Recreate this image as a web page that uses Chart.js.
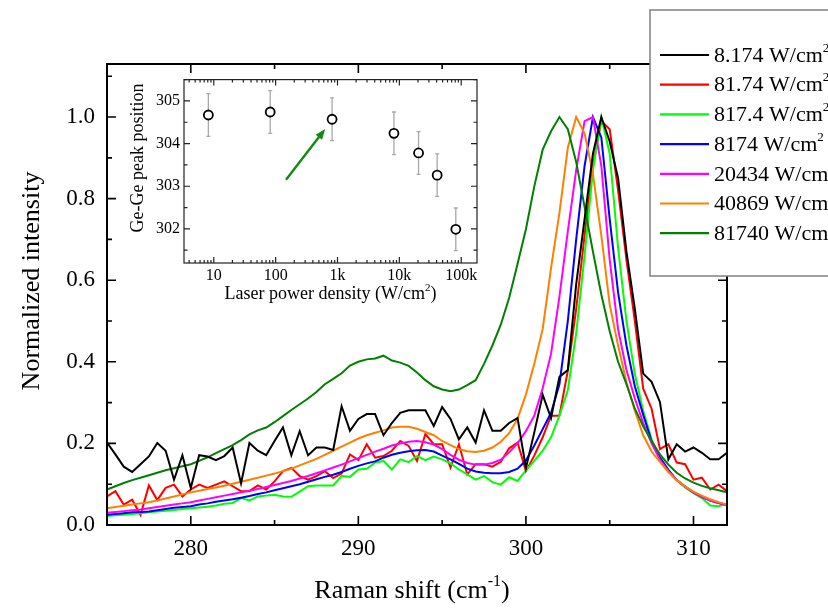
<!DOCTYPE html>
<html>
<head>
<meta charset="utf-8">
<script src="https://cdn.jsdelivr.net/npm/chart.js@4.4.0/dist/chart.umd.min.js"></script>
<style>
body { margin: 0; background: #fff; }
#wrap { position: relative; width: 828px; height: 609px; overflow: hidden; }
#main { position: absolute; left: 0; top: 0; }
#inset { position: absolute; left: 110px; top: 66px; }
</style>
</head>
<body>
<div id="wrap">
<canvas id="main" width="828" height="609"></canvas>
<canvas id="inset" width="380" height="240"></canvas>
</div>
<script>
// Raman shift (cm-1)
const ramanShift = [275, 275.5, 276, 276.5, 277, 277.5, 278, 278.5, 279, 279.5,
    280, 280.5, 281, 281.5, 282, 282.5, 283, 283.5, 284, 284.5,
    285, 285.5, 286, 286.5, 287, 287.5, 288, 288.5, 289, 289.5,
    290, 290.5, 291, 291.5, 292, 292.5, 293, 293.5, 294, 294.5,
    295, 295.5, 296, 296.5, 297, 297.5, 298, 298.5, 299, 299.5,
    300, 300.5, 301, 301.5, 302, 302.5, 303, 303.5, 304, 304.5,
    305, 305.5, 306, 306.5, 307, 307.5, 308, 308.5, 309, 309.5,
    310, 310.5, 311, 311.5, 312];

// normalized intensity, one array per laser power density
const p8_174 = [0.202, 0.173, 0.143, 0.130, 0.149, 0.168, 0.201, 0.182, 0.111, 0.171,
    0.091, 0.171, 0.168, 0.159, 0.169, 0.190, 0.102, 0.201, 0.182, 0.171,
    0.206, 0.239, 0.171, 0.230, 0.171, 0.190, 0.190, 0.184, 0.291, 0.231,
    0.260, 0.272, 0.272, 0.220, 0.250, 0.275, 0.281, 0.281, 0.281, 0.243,
    0.289, 0.260, 0.210, 0.239, 0.202, 0.281, 0.231, 0.231, 0.250, 0.262,
    0.140, 0.227, 0.319, 0.262, 0.363, 0.380, 0.590, 0.750, 0.910, 1.000,
    0.940, 0.850, 0.670, 0.530, 0.371, 0.351, 0.301, 0.161, 0.198, 0.180,
    0.190, 0.177, 0.161, 0.161, 0.177];
const p81_74 = [0.070, 0.083, 0.050, 0.062, 0.025, 0.097, 0.061, 0.091, 0.099, 0.070,
    0.087, 0.099, 0.091, 0.099, 0.107, 0.095, 0.083, 0.083, 0.097, 0.087,
    0.107, 0.132, 0.140, 0.120, 0.111, 0.120, 0.132, 0.115, 0.126, 0.173,
    0.159, 0.198, 0.165, 0.169, 0.182, 0.206, 0.194, 0.157, 0.223, 0.198,
    0.198, 0.141, 0.198, 0.124, 0.149, 0.149, 0.143, 0.155, 0.188, 0.202,
    0.132, 0.170, 0.215, 0.268, 0.268, 0.378, 0.530, 0.710, 0.880, 0.990,
    0.970, 0.820, 0.650, 0.500, 0.334, 0.285, 0.186, 0.198, 0.153, 0.149,
    0.111, 0.116, 0.087, 0.099, 0.083];
const p817_4 = [0.022, 0.024, 0.025, 0.027, 0.029, 0.031, 0.033, 0.035, 0.037, 0.039,
    0.041, 0.043, 0.045, 0.048, 0.052, 0.054, 0.066, 0.060, 0.070, 0.072,
    0.074, 0.070, 0.069, 0.082, 0.095, 0.097, 0.097, 0.097, 0.120, 0.118,
    0.136, 0.138, 0.153, 0.157, 0.136, 0.161, 0.154, 0.169, 0.159, 0.168,
    0.161, 0.151, 0.136, 0.124, 0.111, 0.120, 0.105, 0.099, 0.117, 0.108,
    0.134, 0.157, 0.182, 0.215, 0.268, 0.330, 0.470, 0.660, 0.870, 1.000,
    0.910, 0.680, 0.500, 0.370, 0.280, 0.210, 0.165, 0.135, 0.110, 0.092,
    0.078, 0.066, 0.048, 0.046, 0.052];
const p8174 = [0.025, 0.027, 0.029, 0.031, 0.032, 0.033, 0.036, 0.039, 0.042, 0.044,
    0.046, 0.050, 0.053, 0.057, 0.060, 0.063, 0.067, 0.071, 0.076, 0.080,
    0.085, 0.090, 0.095, 0.100, 0.106, 0.112, 0.118, 0.123, 0.130, 0.138,
    0.145, 0.151, 0.156, 0.165, 0.172, 0.177, 0.181, 0.183, 0.184, 0.180,
    0.170, 0.161, 0.150, 0.138, 0.131, 0.128, 0.127, 0.127, 0.130, 0.138,
    0.158, 0.195, 0.235, 0.275, 0.345, 0.500, 0.700, 0.880, 1.000, 0.950,
    0.750, 0.570, 0.440, 0.340, 0.270, 0.205, 0.165, 0.135, 0.110, 0.094,
    0.080, 0.069, 0.060, 0.054, 0.049];
const p20434 = [0.030, 0.032, 0.034, 0.036, 0.038, 0.041, 0.044, 0.047, 0.050, 0.053,
    0.056, 0.060, 0.064, 0.068, 0.072, 0.076, 0.080, 0.084, 0.088, 0.093,
    0.098, 0.103, 0.108, 0.114, 0.120, 0.127, 0.134, 0.141, 0.148, 0.156,
    0.164, 0.172, 0.180, 0.187, 0.195, 0.200, 0.204, 0.206, 0.203, 0.197,
    0.186, 0.172, 0.160, 0.152, 0.148, 0.148, 0.152, 0.160, 0.178, 0.200,
    0.230, 0.268, 0.335, 0.420, 0.560, 0.720, 0.870, 0.990, 1.000, 0.880,
    0.650, 0.480, 0.380, 0.310, 0.250, 0.200, 0.160, 0.132, 0.110, 0.094,
    0.080, 0.069, 0.060, 0.054, 0.049];
const p40869 = [0.041, 0.044, 0.047, 0.050, 0.053, 0.056, 0.060, 0.065, 0.070, 0.075,
    0.080, 0.084, 0.088, 0.092, 0.096, 0.101, 0.106, 0.111, 0.116, 0.121,
    0.126, 0.132, 0.138, 0.146, 0.154, 0.162, 0.172, 0.182, 0.192, 0.202,
    0.212, 0.220, 0.226, 0.232, 0.239, 0.241, 0.241, 0.236, 0.228, 0.220,
    0.206, 0.196, 0.186, 0.181, 0.179, 0.182, 0.190, 0.204, 0.225, 0.260,
    0.320, 0.395, 0.480, 0.630, 0.765, 0.925, 1.000, 0.960, 0.860, 0.710,
    0.540, 0.440, 0.350, 0.280, 0.220, 0.180, 0.155, 0.130, 0.110, 0.094,
    0.082, 0.072, 0.063, 0.056, 0.050];
const p81740 = [0.087, 0.095, 0.103, 0.110, 0.116, 0.122, 0.128, 0.134, 0.139, 0.144,
    0.149, 0.157, 0.166, 0.176, 0.186, 0.196, 0.208, 0.222, 0.232, 0.239,
    0.252, 0.267, 0.282, 0.296, 0.310, 0.326, 0.345, 0.358, 0.372, 0.391,
    0.400, 0.406, 0.408, 0.415, 0.403, 0.398, 0.390, 0.374, 0.355, 0.340,
    0.332, 0.328, 0.332, 0.343, 0.355, 0.395, 0.440, 0.491, 0.557, 0.640,
    0.725, 0.830, 0.920, 0.965, 1.000, 0.970, 0.890, 0.780, 0.670, 0.565,
    0.475, 0.400, 0.345, 0.285, 0.242, 0.206, 0.173, 0.148, 0.128, 0.114,
    0.104, 0.096, 0.090, 0.085, 0.080];

const spectra = [p8_174, p81_74, p817_4, p8174, p20434, p40869, p81740];
const legendLabels = ['8.174 W/cm', '81.74 W/cm', '817.4 W/cm', '8174 W/cm',
    '20434 W/cm', '40869 W/cm', '81740 W/cm'];
const lineColors = ['#000000', '#ff0000', '#00ff00', '#0000ff', '#ff00ff', '#ff8000', '#008000'];

const xMajor = [280, 290, 300, 310];
const xMinor = [285, 295, 305];
const yMajor = [0, 0.2, 0.4, 0.6, 0.8, 1.0];
const yMinor = [0.1, 0.3, 0.5, 0.7, 0.9, 1.1];

// inset: Ge-Ge peak position vs laser power density
const powerDensity = [8.174, 81.74, 817.4, 8174, 20434, 40869, 81740];
const peakPosition = [304.67, 304.74, 304.57, 304.24, 303.78, 303.26, 301.99];
const peakError = [0.5, 0.5, 0.5, 0.5, 0.5, 0.5, 0.5];
const insetXTicks = [10, 100, 1000, 10000, 100000];
const insetXLabels = ['10', '100', '1k', '10k', '100k'];
const insetYTicks = [302, 303, 304, 305];
const insetYMinor = [301.5, 302.5, 303.5, 304.5, 305.5];
const arrowFrom = [147, 303.15];
const arrowTo = [631, 304.34];

const SERIF = "'Liberation Serif', 'Times New Roman', serif";

function supText(ctx, parts, cx, cy, size, rotate, alignLeft) {
    // parts: [text, isSuperscript]
    ctx.save();
    ctx.translate(cx, cy);
    if (rotate) ctx.rotate(-Math.PI / 2);
    let total = 0;
    parts.forEach(p => {
        ctx.font = (p[1] ? Math.round(size * 0.6) : size) + 'px ' + SERIF;
        total += ctx.measureText(p[0]).width;
    });
    let x = alignLeft ? 0 : -total / 2;
    ctx.textBaseline = 'middle';
    ctx.textAlign = 'left';
    ctx.fillStyle = '#000';
    parts.forEach(p => {
        ctx.font = (p[1] ? Math.round(size * 0.6) : size) + 'px ' + SERIF;
        ctx.fillText(p[0], x, p[1] ? -size * 0.35 : 0);
        x += ctx.measureText(p[0]).width;
    });
    ctx.restore();
}

const mainDecor = {
    id: 'mainDecor',
    afterDraw(chart) {
        const ctx = chart.ctx;
        const a = chart.chartArea;
        const x = chart.scales.x, y = chart.scales.y;
        ctx.save();
        ctx.strokeStyle = '#000';
        ctx.lineWidth = 2;
        ctx.strokeRect(a.left, a.top, a.right - a.left, a.bottom - a.top);
        ctx.lineWidth = 1.6;
        ctx.beginPath();
        const xt = (v, len) => {
            const px = x.getPixelForValue(v);
            ctx.moveTo(px, a.bottom); ctx.lineTo(px, a.bottom - len);
            ctx.moveTo(px, a.top); ctx.lineTo(px, a.top + len);
        };
        const yt = (v, len) => {
            const py = y.getPixelForValue(v);
            ctx.moveTo(a.left, py); ctx.lineTo(a.left + len, py);
            ctx.moveTo(a.right, py); ctx.lineTo(a.right - len, py);
        };
        xMajor.forEach(v => xt(v, 9));
        xMinor.forEach(v => xt(v, 5));
        yMajor.forEach(v => yt(v, 9));
        yMinor.forEach(v => yt(v, 5));
        ctx.stroke();

        supText(ctx, [['Raman shift (cm', false], ['-1', true], [')', false]], 412, 591, 26, false);
        supText(ctx, [['Normalized intensity', false]], 32, 281, 26, true);

        // legend box
        ctx.fillStyle = '#fff';
        ctx.fillRect(650, 10, 200, 266);
        ctx.strokeStyle = '#808080';
        ctx.lineWidth = 1.5;
        ctx.strokeRect(650, 10, 200, 266);
        chart.data.datasets.forEach((ds, i) => {
            const ly = 55 + i * 29.7;
            ctx.strokeStyle = ds.borderColor;
            ctx.lineWidth = 2.2;
            ctx.beginPath();
            ctx.moveTo(660, ly); ctx.lineTo(709, ly);
            ctx.stroke();
            supText(ctx, [[ds.label, false], ['2', true]], 714, ly + 1, 22, false, true);
        });
        ctx.restore();
    }
};

new Chart(document.getElementById('main'), {
    type: 'line',
    data: {
        datasets: spectra.map((s, i) => ({
            label: legendLabels[i],
            data: ramanShift.map((r, j) => ({x: r, y: s[j]})),
            borderColor: lineColors[i],
            backgroundColor: lineColors[i],
            borderWidth: 2,
            pointRadius: 0,
            tension: 0,
            order: i === 0 ? 0 : 7 - i
        }))
    },
    options: {
        responsive: false,
        animation: false,
        layout: {padding: {left: 0, right: 101, top: 64, bottom: 0}},
        plugins: {legend: {display: false}, tooltip: {enabled: false}},
        scales: {
            x: {
                type: 'linear', min: 275, max: 312,
                grid: {display: false, drawTicks: false},
                border: {display: false},
                afterBuildTicks: s => { s.ticks = xMajor.map(v => ({value: v})); },
                afterFit: s => { s.height = 84; },
                ticks: {padding: 10, color: '#000', font: {family: SERIF, size: 23}, callback: v => String(v)}
            },
            y: {
                min: 0, max: 1.13,
                grid: {display: false, drawTicks: false},
                border: {display: false},
                afterBuildTicks: s => { s.ticks = yMajor.map(v => ({value: v})); },
                afterFit: s => { s.width = 107; },
                ticks: {padding: 12, color: '#000', font: {family: SERIF, size: 23}, callback: v => Number(v).toFixed(1)}
            }
        }
    },
    plugins: [mainDecor]
});

const insetDecor = {
    id: 'insetDecor',
    beforeDatasetsDraw(chart) {
        const ctx = chart.ctx;
        const x = chart.scales.x, y = chart.scales.y;
        ctx.save();
        ctx.strokeStyle = '#a8a8a8';
        ctx.lineWidth = 1.3;
        ctx.beginPath();
        powerDensity.forEach((p, i) => {
            const px = x.getPixelForValue(p);
            const top = y.getPixelForValue(peakPosition[i] + peakError[i]);
            const bot = y.getPixelForValue(peakPosition[i] - peakError[i]);
            ctx.moveTo(px, top); ctx.lineTo(px, bot);
            ctx.moveTo(px - 2, top); ctx.lineTo(px + 2, top);
            ctx.moveTo(px - 2, bot); ctx.lineTo(px + 2, bot);
        });
        ctx.stroke();
        ctx.restore();
    },
    beforeDraw(chart) {
        const a = chart.chartArea;
        chart.ctx.save();
        chart.ctx.fillStyle = '#fff';
        chart.ctx.fillRect(a.left, a.top, a.right - a.left, a.bottom - a.top);
        chart.ctx.restore();
    },
    afterDraw(chart) {
        const ctx = chart.ctx;
        const a = chart.chartArea;
        const x = chart.scales.x, y = chart.scales.y;
        ctx.save();
        // arrow
        const x1 = x.getPixelForValue(arrowFrom[0]), y1 = y.getPixelForValue(arrowFrom[1]);
        const x2 = x.getPixelForValue(arrowTo[0]), y2 = y.getPixelForValue(arrowTo[1]);
        const ang = Math.atan2(y2 - y1, x2 - x1);
        const head = 11;
        ctx.strokeStyle = '#138a13';
        ctx.fillStyle = '#138a13';
        ctx.lineWidth = 2.4;
        ctx.beginPath();
        ctx.moveTo(x1, y1);
        ctx.lineTo(x2 - head * 0.8 * Math.cos(ang), y2 - head * 0.8 * Math.sin(ang));
        ctx.stroke();
        ctx.beginPath();
        ctx.moveTo(x2, y2);
        ctx.lineTo(x2 - head * Math.cos(ang - 0.38), y2 - head * Math.sin(ang - 0.38));
        ctx.lineTo(x2 - head * Math.cos(ang + 0.38), y2 - head * Math.sin(ang + 0.38));
        ctx.closePath();
        ctx.fill();

        // frame and inward ticks
        ctx.strokeStyle = '#222';
        ctx.lineWidth = 1.2;
        ctx.strokeRect(a.left, a.top, a.right - a.left, a.bottom - a.top);
        ctx.beginPath();
        const xt = (v, len) => {
            const px = x.getPixelForValue(v);
            if (px < a.left || px > a.right) return;
            ctx.moveTo(px, a.bottom); ctx.lineTo(px, a.bottom - len);
            ctx.moveTo(px, a.top); ctx.lineTo(px, a.top + len);
        };
        const yt = (v, len) => {
            const py = y.getPixelForValue(v);
            ctx.moveTo(a.left, py); ctx.lineTo(a.left + len, py);
            ctx.moveTo(a.right, py); ctx.lineTo(a.right - len, py);
        };
        [1, 10, 100, 1000, 10000, 100000].forEach(d => {
            for (let k = 2; k <= 9; k++) xt(d * k, 3);
        });
        insetXTicks.forEach(v => xt(v, 6));
        insetYTicks.forEach(v => yt(v, 6));
        insetYMinor.forEach(v => yt(v, 3.5));
        ctx.stroke();

        supText(ctx, [['Laser power density (W/cm', false], ['2', true], [')', false]], (a.left + a.right) / 2, 228, 18, false);
        supText(ctx, [['Ge-Ge peak position', false]], 28, 92, 18, true);
        ctx.restore();
    }
};

new Chart(document.getElementById('inset'), {
    type: 'scatter',
    data: {
        datasets: [{
            data: powerDensity.map((p, i) => ({x: p, y: peakPosition[i]})),
            pointStyle: 'circle',
            pointRadius: 4.5,
            borderColor: '#000',
            backgroundColor: '#fff',
            borderWidth: 1.8
        }]
    },
    options: {
        responsive: false,
        animation: false,
        layout: {padding: {left: 0, right: 13, top: 10, bottom: 0}},
        plugins: {legend: {display: false}, tooltip: {enabled: false}},
        scales: {
            x: {
                type: 'logarithmic', min: 3.3, max: 180000,
                grid: {display: false, drawTicks: false},
                border: {display: false},
                afterBuildTicks: s => { s.ticks = insetXTicks.map(v => ({value: v})); },
                afterFit: s => { s.height = 43; },
                ticks: {padding: 3, color: '#000', font: {family: SERIF, size: 16},
                    callback: v => insetXLabels[insetXTicks.indexOf(v)]}
            },
            y: {
                min: 301.2, max: 305.5,
                grid: {display: false, drawTicks: false},
                border: {display: false},
                afterBuildTicks: s => { s.ticks = insetYTicks.map(v => ({value: v})); },
                afterFit: s => { s.width = 74; },
                ticks: {padding: 4, color: '#000', font: {family: SERIF, size: 16}, callback: v => String(v)}
            }
        }
    },
    plugins: [insetDecor]
});
</script>
</body>
</html>
